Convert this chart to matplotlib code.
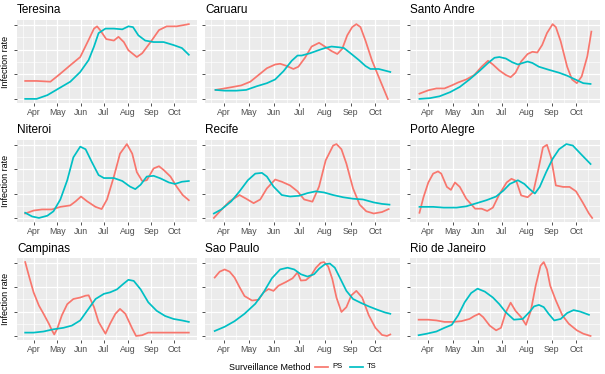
import matplotlib
matplotlib.use("Agg")
import matplotlib.pyplot as plt
from matplotlib.lines import Line2D

plt.rcParams['font.family'] = ['Liberation Sans', 'DejaVu Sans']

# days since 1 April, values in each city's own (free) scale
cities = ['Teresina', 'Caruaru', 'Santo Andre', 'Niteroi', 'Recife', 'Porto Alegre',
          'Campinas', 'Sao Paulo', 'Rio de Janeiro']
months = ['Apr', 'May', 'Jun', 'Jul', 'Aug', 'Sep', 'Oct']
month_days = [0, 30, 61, 91, 122, 153, 183]

ps_x = {
    'Teresina': [-12, 3, 21, 32, 47, 60, 71, 78, 82, 86, 94, 104, 110, 117, 123, 134, 141, 152, 163, 173, 186, 202],
    'Caruaru': [-10, 1, 11, 21, 32, 42, 52, 62, 68, 76, 84, 90, 98, 106, 115, 122, 130, 137, 143, 149, 155, 160, 165, 171, 179, 189, 198],
    'Santo Andre': [-11, 0, 10, 20, 29, 37, 47, 57, 66, 74, 80, 88, 96, 102, 108, 115, 123, 129, 135, 141, 147, 154, 158, 164, 172, 178, 184, 190, 197, 202],
    'Niteroi': [-12, -1, 10, 23, 34, 47, 54, 61, 69, 80, 88, 95, 104, 112, 121, 128, 134, 141, 147, 156, 163, 169, 178, 186, 194, 202],
    'Recife': [-12, -3, 7, 19, 27, 36, 44, 52, 62, 70, 80, 89, 97, 107, 115, 123, 132, 136, 142, 148, 156, 164, 172, 181, 191, 199],
    'Porto Alegre': [-11, -6, 0, 6, 12, 16, 23, 28, 33, 39, 47, 58, 66, 73, 80, 88, 97, 103, 109, 115, 123, 130, 136, 142, 147, 152, 158, 167, 175, 183, 191, 199, 203],
    'Campinas': [-12, -7, -1, 6, 12, 19, 23, 26, 30, 36, 43, 51, 60, 67, 71, 78, 84, 93, 99, 106, 112, 119, 128, 133, 141, 149, 165, 202],
    'Sao Paulo': [-11, -5, 1, 7, 13, 19, 25, 34, 42, 48, 54, 60, 66, 75, 83, 89, 93, 99, 105, 111, 117, 121, 126, 131, 136, 142, 148, 154, 160, 167, 175, 183, 191, 197, 201],
    'Rio de Janeiro': [-12, 0, 10, 20, 31, 41, 51, 57, 63, 68, 76, 84, 90, 96, 102, 108, 115, 121, 127, 133, 139, 143, 147, 151, 158, 166, 174, 184, 192, 201],
}
ps_y = {
    'Teresina': [24, 24, 23, 32, 45, 56, 79, 94, 97, 92, 80, 78, 83, 76, 65, 56, 61, 76, 92, 97, 97, 100],
    'Caruaru': [12, 14, 16, 18, 23, 32, 41, 46, 47, 44, 40, 43, 55, 70, 75, 70, 64, 60, 67, 85, 96, 100, 96, 78, 51, 24, 0],
    'Santo Andre': [7, 11.5, 14, 14, 18, 22, 26, 32, 43, 51, 46, 38, 32, 29, 35, 50, 60, 63, 62, 72, 88, 100, 96, 77, 43, 26, 21, 30, 57, 90],
    'Niteroi': [6, 10, 11.5, 11.5, 15, 17, 22.5, 29, 22.5, 15, 12, 25, 56, 87, 100, 87, 62, 50, 51, 67, 70, 65, 56, 42.5, 31, 24],
    'Recife': [0, 11, 22.5, 31, 26, 20, 25, 40, 52, 49, 44, 36, 25, 22, 42.5, 78, 98, 100, 93, 73.5, 40, 18, 9, 6, 8, 12],
    'Porto Alegre': [7, 28, 48, 60, 63, 60, 42, 38, 48, 42, 26, 12.5, 12.5, 9.4, 14, 32, 48, 53, 50, 30.5, 28, 35, 64, 95.5, 99, 82, 44, 42, 42, 36, 21.5, 6, 0],
    'Campinas': [100, 81, 59, 41, 30, 16.5, 7.6, 2, 10, 28, 43, 50, 52, 54.5, 55, 39, 19, 3, 16.5, 30, 36.6, 30, 10, 0, 1, 4.5, 4.5, 4.5],
    'Sao Paulo': [79, 87, 90, 87, 79, 66, 54, 48, 49, 59, 63.5, 61, 68, 73, 78, 86, 75, 75.5, 81, 92, 99, 100, 94, 77, 52, 32.4, 39, 55, 61, 52, 28, 11, 1.3, 0, 2],
    'Rio de Janeiro': [22, 22, 21, 19, 19, 20, 23, 27, 30, 25.4, 14, 7.6, 11, 32, 45, 34, 25.4, 15, 34, 68, 95, 100, 90, 68, 48, 28, 16.5, 7.6, 3, 0],
}
ts_x = {
    'Teresina': [-12, 3, 17, 32, 47, 60, 71, 78, 84, 93, 104, 115, 123, 129, 136, 145, 156, 169, 182, 193, 202],
    'Caruaru': [-10, 1, 15, 27, 40, 52, 62, 72, 82, 89, 94, 104, 114, 122, 130, 139, 145, 153, 163, 171, 177, 187, 201],
    'Santo Andre': [-11, 2, 14, 27, 39, 51, 63, 74, 82, 88, 96, 104, 111, 117, 123, 129, 137, 149, 162, 172, 182, 192, 201],
    'Niteroi': [-12, -3, 6, 17, 25, 34, 43, 51, 60, 67, 75, 84, 91, 104, 115, 125, 132, 139, 147, 156, 165, 176, 184, 193, 202],
    'Recife': [-12, -3, 9, 19, 29, 38, 46, 52, 60, 70, 80, 91, 101, 111, 121, 132, 144, 156, 168, 181, 191, 200],
    'Porto Alegre': [-11, 6, 19, 35, 47, 60, 72, 84, 93, 101, 111, 119, 125, 132, 138, 146, 154, 162, 171, 179, 189, 201],
    'Campinas': [-12, -1, 12, 25, 38, 49, 60, 71, 80, 91, 99, 108, 117, 123, 130, 139, 149, 160, 171, 182, 193, 202],
    'Sao Paulo': [-11, 1, 13, 25, 38, 48, 58, 68, 77, 85, 93, 101, 109, 115, 122, 128, 134, 140, 148, 156, 165, 175, 185, 195, 201],
    'Rio de Janeiro': [-12, -2, 10, 20, 29, 37, 45, 53, 61, 70, 80, 88, 96, 106, 117, 125, 131, 137, 143, 149, 156, 164, 172, 180, 188, 199],
}
ts_y = {
    'Teresina': [0, 0, 5, 14, 23, 36, 52, 70, 88, 94, 94, 93, 97, 96, 85, 78, 76, 76, 72, 68, 59],
    'Caruaru': [12, 11, 11, 12, 17, 21, 26, 37, 51, 58, 58, 61, 65, 68, 70, 69, 68, 61, 52, 44, 40, 40, 36],
    'Santo Andre': [0, 1, 3.5, 9, 16, 26, 37, 48, 55, 56, 54, 49, 46, 48, 50, 48, 43, 39, 35, 31, 26, 21, 20],
    'Niteroi': [7, 2, 0, 3, 9, 25, 51, 82, 96.5, 93, 76, 58, 54, 54, 50, 42.5, 39, 45, 56, 57, 53.5, 48, 46, 49, 50],
    'Recife': [6, 11.5, 22.5, 36, 51, 60, 61, 56, 42.5, 31, 29, 30, 33.6, 36, 34.5, 31, 28, 26, 25, 21, 19, 18],
    'Porto Alegre': [15, 15, 14, 14, 15.7, 20, 24, 29, 37, 46, 51, 46, 39.5, 33, 42, 62, 80, 93, 100, 98, 86.5, 73],
    'Campinas': [4.5, 4.5, 6, 9, 11, 14, 21, 37, 50, 57, 59, 63, 71, 76, 74.5, 63, 45.5, 34, 27, 23, 21, 19],
    'Sao Paulo': [6.7, 12.4, 20, 30, 43.5, 59, 78, 90, 92.4, 90, 83.5, 80.4, 83.5, 91, 97, 98, 92.4, 79, 61, 50, 45, 40, 35.6, 31.6, 30],
    'Rio de Janeiro': [1, 3, 6, 11, 15, 28, 45.5, 58, 64, 60, 52, 43, 32, 22, 23, 32, 40, 42, 39, 30, 21, 23, 31, 35, 33, 28.6],
}

PS_COL = '#F8766D'
TS_COL = '#00BFC4'
W, H = 605, 374

fig = plt.figure(figsize=(W / 100, H / 100), dpi=100)

col_px = [(17, 197), (205, 400), (410, 600)]
row_px = [(20, 103), (140, 222), (258, 340)]
title_y = [10, 130, 249]

minor_days = [-15.5, 15, 45.5, 76, 106.5, 137.5, 168, 198]

for i, city in enumerate(cities):
    r, c = divmod(i, 3)
    x0, x1 = col_px[c]
    y0, y1 = row_px[r]
    ax = fig.add_axes([x0 / W, 1 - y1 / H, (x1 - x0) / W, (y1 - y0) / H])
    ax.set_facecolor('#EBEBEB')
    ax.plot(ps_x[city], ps_y[city], color=PS_COL, lw=1.25)
    ax.plot(ts_x[city], ts_y[city], color=TS_COL, lw=1.25)
    ax.set_xlim(-22.7, 212.7)
    ax.set_ylim(-5.5, 105.5)
    ax.set_xticks(month_days)
    ax.set_xticklabels(months)
    ax.set_xticks(minor_days, minor=True)
    ax.set_yticks([0, 33, 66, 99])
    ax.set_yticklabels([])
    ax.set_yticks([16.5, 49.5, 82.5], minor=True)
    ax.grid(which='major', color='white', lw=0.9)
    ax.grid(which='minor', color='white', lw=0.45)
    ax.set_axisbelow(True)
    for s in ax.spines.values():
        s.set_visible(False)
    ax.tick_params(which='major', length=2.2, width=0.6, color='#333333',
                   labelsize=6.3, labelcolor='#4D4D4D', pad=1.5)
    ax.tick_params(which='minor', length=0)
    fig.text(x0 / W, 1 - title_y[r] / H, city, fontsize=8.5, va='center', ha='left')
    if c == 0:
        fig.text(6 / W, 1 - (y0 + y1) / 2 / H, 'Infection rate', rotation=90,
                 fontsize=6.5, va='center', ha='center')

# legend
ly = 1 - 367 / H
fig.text(229 / W, ly, 'Surveillance Method', fontsize=6.4, va='center', ha='left')
fig.add_artist(Line2D([315 / W, 328 / W], [ly, ly], color=PS_COL, lw=1.25, transform=fig.transFigure))
fig.text(332 / W, ly, 'PS', fontsize=5.5, va='center', ha='left')
fig.add_artist(Line2D([350 / W, 363 / W], [ly, ly], color=TS_COL, lw=1.25, transform=fig.transFigure))
fig.text(367 / W, ly, 'TS', fontsize=5.5, va='center', ha='left')

fig.savefig('out.png', dpi=100)
